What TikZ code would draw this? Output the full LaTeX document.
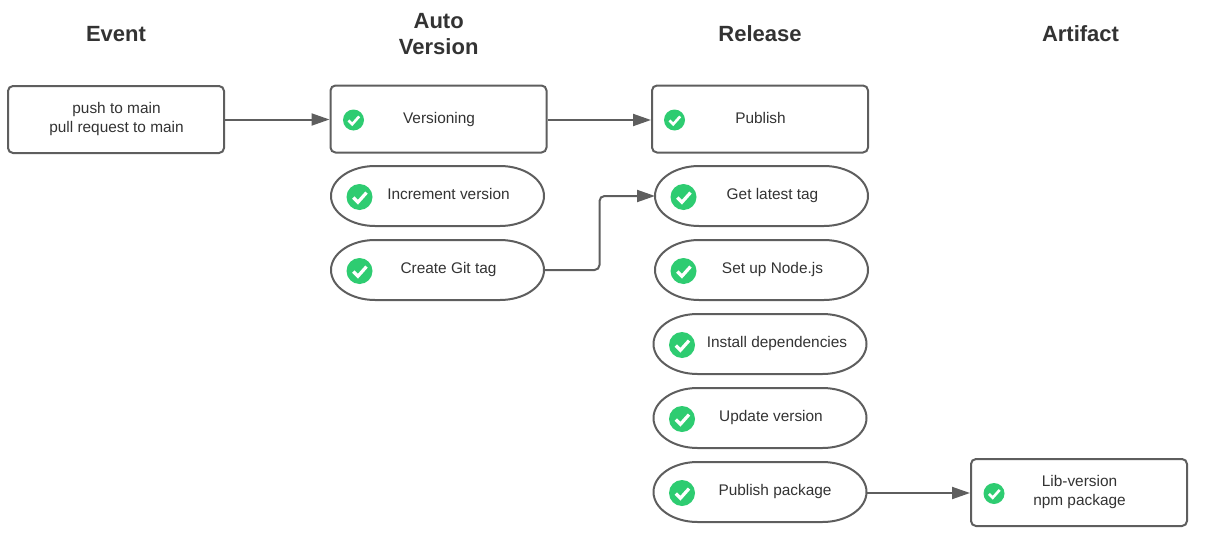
\documentclass[tikz,border=0pt]{standalone}
\usepackage{fontspec}
\setmainfont{Liberation Sans}
\usetikzlibrary{arrows.meta}
\definecolor{edge}{HTML}{5E5E5E}
\definecolor{ink}{HTML}{333333}
\definecolor{okgreen}{HTML}{2ECC71}
\tikzset{
  x=1pt,y=-1pt,
  box/.style={draw=edge,line width=2pt,rounded corners=5pt,inner sep=0pt,fill=white},
  pillanchor/.style={inner sep=0pt,outer sep=0pt},
  pilloutline/.style={draw=edge,line width=2pt,fill=white},
  heading/.style={font=\fontsize{22}{26}\selectfont\bfseries,text=ink,align=center,inner sep=0pt},
  lbl/.style={font=\fontsize{15.4}{19}\selectfont,text=ink,align=center,inner sep=0pt},
  link/.style={draw=edge,line width=2pt,-{Triangle[length=18pt,width=12pt]}},
  okcircle/.style={circle,fill=okgreen,inner sep=0pt},
}
% name, centre x, centre y, width, height
\newcommand{\mkbox}[5]{\node[box,minimum width=#4pt,minimum height=#5pt] (#1) at (#2,#3) {};}
\newcommand{\mkpill}[5]{%
  \node[pillanchor,minimum width=#4pt,minimum height=#5pt] (#1) at (#2,#3) {};
  \draw[pilloutline] ([xshift=44pt]#1.north west) -- ([xshift=-44pt]#1.north east)
    arc[start angle=90,end angle=-90,x radius=44pt,y radius=30pt]
    -- ([xshift=44pt]#1.south west)
    arc[start angle=270,end angle=90,x radius=44pt,y radius=30pt] -- cycle;}
% name, x, y, diameter
\newcommand{\mkok}[4]{%
  \node[okcircle,minimum size=#4pt] (#1) at (#2,#3) {};
  \draw[white,line width=#4*0.125pt] ([shift={(-#4*0.24,#4*0.02)}]#1.center) -- ([shift={(-#4*0.06,#4*0.2)}]#1.center) -- ([shift={(#4*0.27,-#4*0.17)}]#1.center);}
\begin{document}
\begin{tikzpicture}
\useasboundingbox (0,0) rectangle (1211,546);
\node[heading] (hevent) at (116,34.5) {Event};
\node[heading] (hauto) at (438.7,34) {Auto\\Version};
\node[heading] (hrel) at (760,34) {Release};
\node[heading] (hart) at (1080.5,34) {Artifact};

\mkbox{event}{116}{119.5}{216}{67}
\node[lbl] (tevent) at (116.5,119) {push to main\\pull request to main};

\mkbox{ver}{438.5}{119}{216}{67}
\mkok{kver}{353.5}{120}{21}
\node[lbl] (tver) at (439,119.5) {Versioning};

\mkbox{pub}{760}{119}{216}{67}
\mkok{kpub}{674.5}{120}{21}
\node[lbl] (tpub) at (760.5,117.5) {Publish};

\mkpill{inc}{437.5}{196}{213}{60}
\mkok{kinc}{359.5}{197}{26}
\node[lbl] (tinc) at (448.5,193.5) {Increment version};

\mkpill{tag}{437.5}{270}{213}{60}
\mkok{ktag}{359.5}{271}{26}
\node[lbl] (ttag) at (448.5,269.5) {Create Git tag};

\mkpill{latest}{761.5}{196}{213}{60}
\mkok{klatest}{683.5}{197}{26}
\node[lbl] (tlatest) at (772.5,195.5) {Get latest tag};

\mkpill{node}{761.5}{270}{213}{60}
\mkok{knode}{683.5}{271}{26}
\node[lbl] (tnode) at (772.5,269.5) {Set up Node.js};

\mkpill{deps}{760}{344}{213}{60}
\mkok{kdeps}{682}{345}{26}
\node[lbl] (tdeps) at (777,343.5) {Install dependencies};

\mkpill{upd}{760}{418}{213}{60}
\mkok{kupd}{682}{419}{26}
\node[lbl] (tupd) at (771,417.5) {Update version};

\mkpill{pkg}{760}{492}{213}{60}
\mkok{kpkg}{682}{493}{26}
\node[lbl] (tpkg) at (775,491.5) {Publish package};

\mkbox{art}{1079}{492.5}{216}{67}
\mkok{kart}{994}{493.5}{21}
\node[lbl] (tart) at (1079.5,492) {Lib-version\\npm package};

\draw[link] (event.east) -- (ver.west |- event.east);
\draw[link] ([yshift=-1pt]ver.east) -- ([yshift=-1pt]pub.west);
\draw[link,rounded corners=5pt] (tag.east) -- (599.5,270) -- (599.5,196) -- (latest.west);
\draw[link] ([yshift=-1pt]pkg.east) -- ([yshift=-1pt]art.west |- pkg.east);
\end{tikzpicture}
\end{document}
